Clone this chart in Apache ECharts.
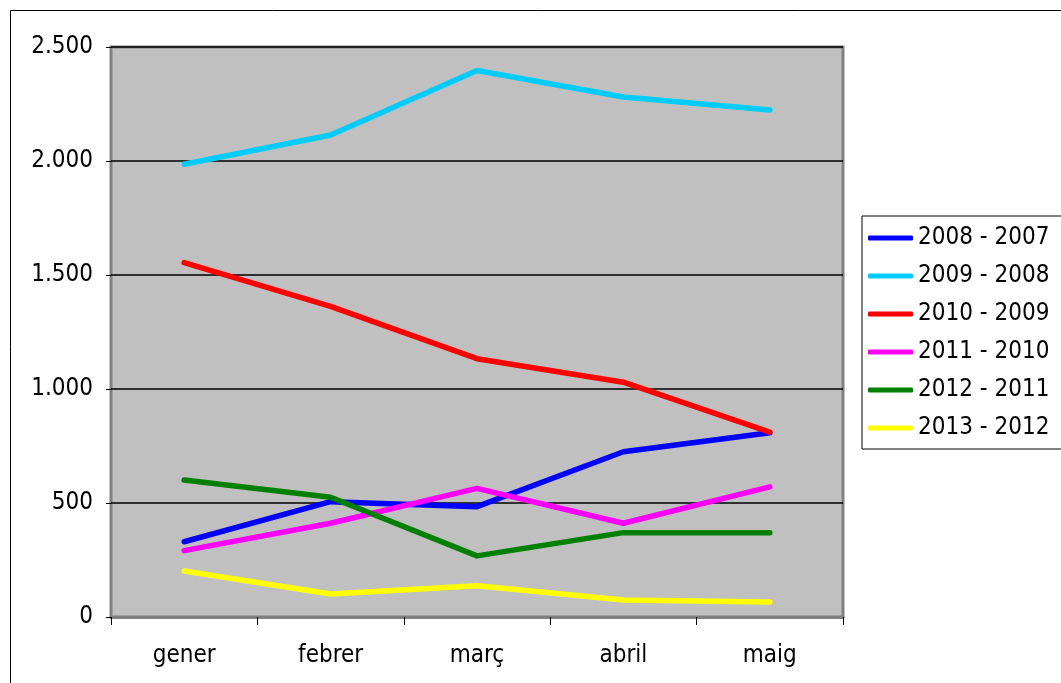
<!DOCTYPE html>
<html>
<head>
<meta charset="utf-8">
<script src="https://cdn.jsdelivr.net/npm/echarts@6/dist/echarts.min.js"></script>
<style>
  html, body { margin: 0; padding: 0; background: #fff; }
  #chart { width: 1061px; height: 683px; }
</style>
</head>
<body>
<div id="chart"></div>
<script>
// mesos
var months = ['gener', 'febrer', 'març', 'abril', 'maig'];
var seriesNames = ['2008 - 2007', '2009 - 2008', '2010 - 2009', '2011 - 2010', '2012 - 2011', '2013 - 2012'];
var colors = ['#0000ff', '#00ccff', '#ff0000', '#ff00ff', '#008000', '#ffff00'];

// valors llegits del gràfic
var d2008 = [330, 506, 484, 725, 808];
var d2009 = [1986, 2114, 2397, 2281, 2224];
var d2010 = [1554, 1362, 1133, 1030, 811];
var d2011 = [291, 411, 564, 411, 571];
var d2012 = [601, 525, 268, 370, 370];
var d2013 = [202, 101, 137, 75, 66];
var allData = [d2008, d2009, d2010, d2011, d2012, d2013];

var FONT = 'DejaVu Sans Condensed';

var chart = echarts.init(document.getElementById('chart'));

var series = seriesNames.map(function (name, i) {
  return {
    name: name,
    type: 'line',
    data: allData[i],
    symbol: 'none',
    lineStyle: { width: 5.5, color: colors[i], cap: 'round', join: 'round' },
    itemStyle: { color: colors[i] },
    animation: false
  };
});

chart.setOption({
  animation: false,
  backgroundColor: '#fff',
  textStyle: { fontFamily: FONT },
  grid: {
    left: 111, right: 218, top: 47, bottom: 66,
    show: true,
    backgroundColor: '#c0c0c0',
    borderColor: '#808080',
    borderWidth: 3
  },
  graphic: [{
    type: 'rect',
    shape: { x: 10.5, y: 10.5, width: 1200, height: 1000 },
    style: { fill: 'none', stroke: '#000', lineWidth: 1 },
    silent: true,
    z: -10
  }],
  legend: {
    orient: 'vertical',
    left: 862,
    top: 216,
    padding: [10, 20, 9, 6],
    itemGap: 14,
    itemWidth: 45,
    itemHeight: 5,
    icon: 'roundRect',
    backgroundColor: '#fff',
    borderColor: '#000',
    borderWidth: 1,
    textStyle: { fontFamily: FONT, fontSize: 24, color: '#000', padding: [0, 0, 0, 0] },
    data: seriesNames
  },
  xAxis: {
    type: 'category',
    data: months,
    boundaryGap: true,
    axisLine: { show: true, lineStyle: { color: '#808080', width: 3 } },
    axisTick: { show: true, length: 8, lineStyle: { color: '#000', width: 1 } },
    axisLabel: { fontFamily: FONT, fontSize: 24, color: '#000', margin: 27 },
    splitLine: { show: false }
  },
  yAxis: {
    type: 'value',
    min: 0,
    max: 2500,
    interval: 500,
    axisLine: { show: false },
    axisTick: { show: true, length: 5, lineStyle: { color: '#000', width: 1 } },
    axisLabel: {
      fontFamily: FONT, fontSize: 24, color: '#000', margin: 18,
      padding: [6, 0, 0, 0],
      formatter: function (v) {
        return String(v).replace(/\B(?=(\d{3})+(?!\d))/g, '.');
      }
    },
    splitLine: { show: true, lineStyle: { color: '#000', width: 1.5 } }
  },
  series: series
});
</script>
</body>
</html>
